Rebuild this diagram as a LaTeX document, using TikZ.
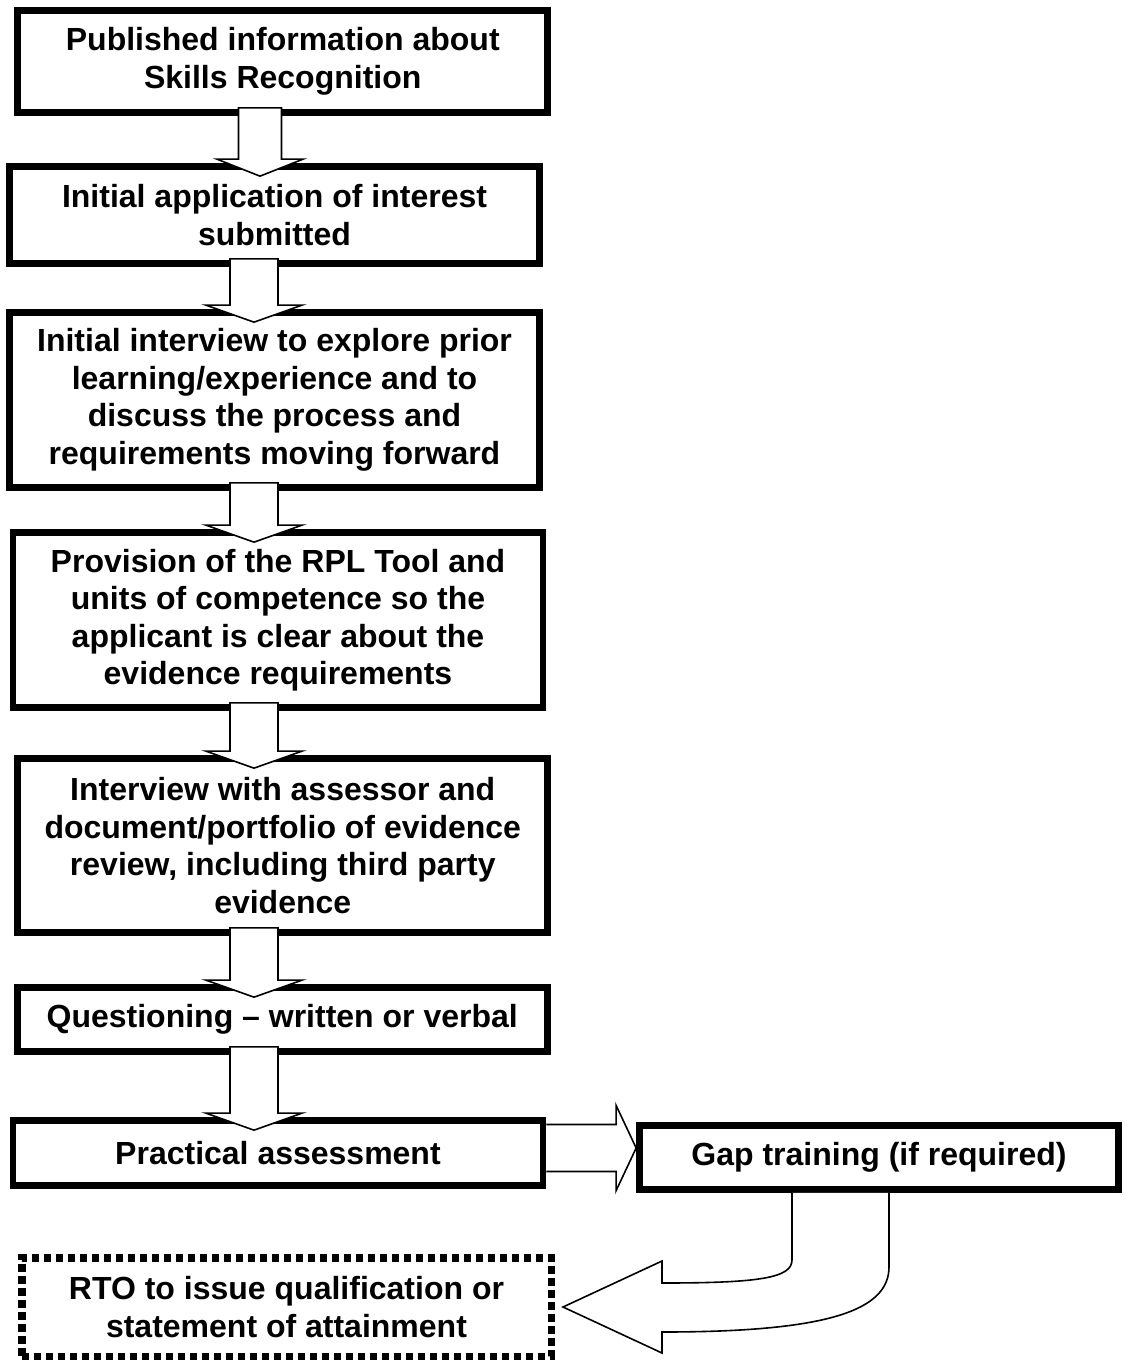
\documentclass[tikz,border=0pt]{standalone}
\usepackage{fontspec}
\setmainfont{Liberation Sans}
\usetikzlibrary{calc}

\tikzset{
  stepbox/.style={draw, line width=6.7pt, fill=white, align=center, inner sep=0pt,
    minimum width=530pt, font=\bfseries\fontsize{32}{37.5}\selectfont},
  endbox/.style={stepbox, line width=7.5pt, dash pattern=on 7.5pt off 4.5pt},
  blockarrow/.style={draw, fill=white, line width=1.6pt, line join=miter},
}

\newcommand{\flowdown}[4][24]{%
  \draw[blockarrow] ($(#3.south -| #2)+(-#1,-8)$) -- ($(#4.north -| #2)+(-#1,-4)$)
    -- ($(#4.north -| #2)+(-2*#1,-4)$) -- ($(#4.north -| #2)+(0,13)$)
    -- ($(#4.north -| #2)+(2*#1,-4)$) -- ($(#4.north -| #2)+(#1,-4)$)
    -- ($(#3.south -| #2)+(#1,-8)$) -- cycle;}

\begin{document}
\begin{tikzpicture}[x=1pt, y=-1pt]
      \useasboundingbox (0,0) rectangle (1127,1360);
      \coordinate (spinetop) at (260,0);
      \coordinate (spine) at (254,0);
      \node[stepbox, minimum height=102pt] (published) at (282.75,61.5) {Published information about\\Skills Recognition};
      \node[stepbox, minimum height=97pt] (application) at (274.5,215) {Initial application of interest\\submitted};
      \node[stepbox, minimum height=175pt] (interview) at (274.5,400) {Initial interview to explore prior\\learning/experience and to\\discuss the process and\\requirements moving forward};
      \node[stepbox, minimum height=175pt] (provision) at (278,620) {Provision of the RPL Tool and\\units of competence so the\\applicant is clear about the\\evidence requirements};
      \node[stepbox, minimum height=174pt] (review) at (282.75,845.5) {Interview with assessor and\\document/portfolio of evidence\\review, including third party\\evidence};
      \node[stepbox, minimum height=64pt] (questioning) at (282.25,1019.5) {Questioning -- written or verbal};
      \node[stepbox, minimum height=65pt] (practical) at (278,1153) {Practical assessment};
      \node[stepbox, minimum width=479pt, minimum height=64pt] (gap) at (879,1157.5) {Gap training (if required)};
      \node[endbox, minimum width=529.5pt, minimum height=98.5pt] (rto) at (286.5,1307) {RTO to issue qualification or\\statement of attainment};
      \flowdown[21.5]{spinetop}{published}{application}
      \flowdown{spine}{application}{interview}
      \flowdown{spine}{interview}{provision}
      \flowdown{spine}{provision}{review}
      \flowdown{spine}{review}{questioning}
      \flowdown{spine}{questioning}{practical}
      \coordinate (gaptip) at ($(gap.west)+(0,-9.5)$);
      \draw[blockarrow] ($(practical.east |- gaptip)+(0,-23.5)$) -- ($(gaptip)+(-20,-23.5)$)
        -- ($(gaptip)+(-20,-42.5)$) -- (gaptip) -- ($(gaptip)+(-20,42.5)$)
        -- ($(gaptip)+(-20,23.5)$) -- ($(practical.east |- gaptip)+(0,23.5)$);
      \coordinate (rtotip) at ($(rto.east)+(8,0)$);
      \draw[blockarrow] ($(gap.south)+(-87,0)$) -- ($(gap.south)+(-87,67)$)
        .. controls ($(gap.south)+(-87,85)$) and ($(rtotip)+(197,-24)$) .. ($(rtotip)+(99,-24)$)
        -- ($(rtotip)+(99,-46)$) -- (rtotip) -- ($(rtotip)+(99,46)$) -- ($(rtotip)+(99,25)$)
        .. controls ($(rtotip)+(267,25)$) and ($(gap.south)+(10,117)$) .. ($(gap.south)+(10,74)$)
        -- ($(gap.south)+(10,0)$);
\end{tikzpicture}
\end{document}
